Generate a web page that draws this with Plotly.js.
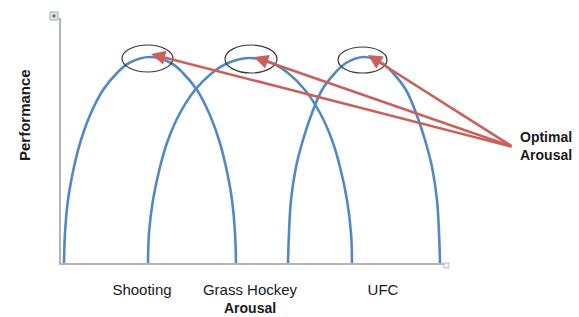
<!DOCTYPE html>
<html>
<head>
<meta charset="utf-8">
<script src="https://cdn.plot.ly/plotly-3.0.1.min.js"></script>
<style>html,body{margin:0;padding:0;background:#fff;}#chart{width:579px;height:317px;}</style>
</head>
<body>
<div id="chart"></div>
<script>
// Categories (arousal levels) and their positions on the arousal axis
const categories = ["Shooting", "Grass Hockey", "UFC"];
const categoryX = [81, 189, 322];

// Inverted-U curves (arousal, performance)
const shootingX = [3, 4, 7, 13, 20, 30, 42, 56, 68, 89, 110, 122, 136, 148, 158, 165, 171, 174, 175];
const shootingY = [0, 30, 63, 96, 123, 150, 173, 190, 200, 206, 200, 190, 173, 150, 123, 96, 63, 30, 0];

const hockeyX = [87, 88, 92, 99, 107, 119, 134, 151, 167, 189, 211, 227, 244, 259, 271, 279, 286, 290, 291];
const hockeyY = [0, 30, 63, 96, 123, 150, 173, 190, 200, 205, 200, 190, 173, 150, 123, 96, 63, 30, 0];

const ufcX = [227, 228, 230, 235, 242, 251, 261, 274, 285, 303, 321, 332, 345, 355, 364, 371, 376, 378, 379];
const ufcY = [0, 30, 63, 96, 123, 150, 173, 190, 200, 206, 200, 190, 173, 150, 123, 96, 63, 30, 0];

// Optimal arousal markers: peak ellipses [x0, x1, y0, y1] and arrow tips
const peakEllipseX0 = [61, 164, 277];
const peakEllipseX1 = [112, 216, 326];
const peakEllipseY0 = [191, 190, 190];
const peakEllipseY1 = [218, 218, 216];
const arrowTipX = [90, 193, 307];
const arrowTipY = [209, 206, 208];
const arrowTail = [452, 116];

const curveColor = "#5289c4";
const arrowColor = "#c9605c";

const traces = [
  {x: shootingX, y: shootingY, name: categories[0]},
  {x: hockeyX, y: hockeyY, name: categories[1]},
  {x: ufcX, y: ufcY, name: categories[2]}
].map(t => Object.assign(t, {
  type: "scatter", mode: "lines",
  line: {color: curveColor, width: 2.6, shape: "spline", smoothing: 1},
  hoverinfo: "skip", showlegend: false, cliponaxis: false
}));

const shapes = [];
for (let i = 0; i < 3; i++) {
  shapes.push({type: "circle", xref: "x", yref: "y",
    x0: peakEllipseX0[i], x1: peakEllipseX1[i], y0: peakEllipseY0[i], y1: peakEllipseY1[i],
    line: {color: "#3a3a3a", width: 1.2}, fillcolor: "rgba(0,0,0,0)", layer: "above"});
}
// small handle boxes at axis ends (paper coordinates)
shapes.push({type: "rect", xref: "paper", yref: "paper", x0: -0.0286, x1: -0.0078, y0: 0.9918, y1: 1.0245,
  line: {color: "#9aa6b6", width: 1}, fillcolor: "#e4eaf2", layer: "above"});
shapes.push({type: "line", xref: "paper", yref: "paper", x0: -0.0234, x1: -0.013, y0: 1.0082, y1: 1.0082,
  line: {color: "#555", width: 1}, layer: "above"});
shapes.push({type: "line", xref: "paper", yref: "paper", x0: -0.0182, x1: -0.0182, y0: 1.0, y1: 1.0163,
  line: {color: "#555", width: 1}, layer: "above"});
shapes.push({type: "rect", xref: "paper", yref: "paper", x0: 0.997, x1: 1.0104, y0: -0.0204, y1: 0,
  line: {color: "#b8c2d0", width: 1}, fillcolor: "#f2f5f9", layer: "above"});

const annotations = [];
for (let i = 0; i < 3; i++) {
  annotations.push({x: arrowTipX[i], y: arrowTipY[i], xref: "x", yref: "y",
    ax: arrowTail[0], ay: arrowTail[1], axref: "x", ayref: "y",
    text: "", showarrow: true, arrowhead: 2, arrowsize: 1.1, arrowwidth: 2.6,
    arrowcolor: arrowColor, standoff: 0, startstandoff: 0});
}
const boldFont = {family: "Liberation Sans, Arial, sans-serif", size: 15, color: "#1a1a1a", weight: "bold"};
const boldSmall = Object.assign({}, boldFont, {size: 14});
annotations.push({x: 1.19, y: 0.4776, xref: "paper", yref: "paper", text: "<b>Optimal<br>Arousal</b>", showarrow: false,
  xanchor: "left", yanchor: "middle", align: "left", font: boldSmall});
annotations.push({x: 0.492, y: -0.1837, xref: "paper", yref: "paper", text: "<b>Arousal</b>", showarrow: false,
  xanchor: "center", yanchor: "middle", font: boldSmall});
annotations.push({x: -0.0964, y: 0.604, xref: "paper", yref: "paper", text: "<b>Performance</b>", showarrow: false,
  textangle: -90, xanchor: "center", yanchor: "middle", font: boldFont});

const layout = {
  width: 579, height: 317,
  margin: {l: 61, r: 134, t: 18, b: 54},
  paper_bgcolor: "#ffffff", plot_bgcolor: "#ffffff",
  showlegend: false,
  xaxis: {range: [0, 384], showgrid: false, zeroline: false, showline: true,
    linecolor: "#b4b4b4", linewidth: 2, tickmode: "array", tickvals: categoryX, ticktext: categories,
    ticks: "outside", ticklen: 12, tickcolor: "rgba(0,0,0,0)",
    tickfont: {family: "Liberation Sans, Arial, sans-serif", size: 15, color: "#1a1a1a"},
    fixedrange: true},
  yaxis: {range: [0, 245], showgrid: false, zeroline: false, showline: true,
    linecolor: "#b4b4b4", linewidth: 2, showticklabels: false, ticks: "", fixedrange: true},
  shapes: shapes,
  annotations: annotations
};

Plotly.newPlot("chart", traces, layout, {displayModeBar: false, staticPlot: true});
</script>
</body>
</html>
